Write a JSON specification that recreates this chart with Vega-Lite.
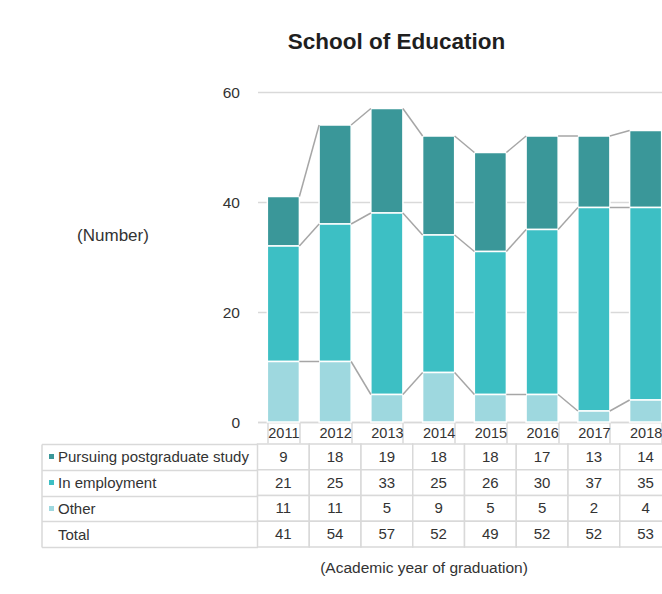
{
  "$schema": "https://vega.github.io/schema/vega-lite/v6.json",
  "padding": {"left": 40.5, "top": 30, "right": 0, "bottom": 0},
  "background": "white",
  "config": {"font": "Liberation Sans", "view": {"stroke": null}},
  "datasets": {
    "grads": [
      {"year": 2011, "category": "Pursuing postgraduate study", "value": 9},
      {"year": 2012, "category": "Pursuing postgraduate study", "value": 18},
      {"year": 2013, "category": "Pursuing postgraduate study", "value": 19},
      {"year": 2014, "category": "Pursuing postgraduate study", "value": 18},
      {"year": 2015, "category": "Pursuing postgraduate study", "value": 18},
      {"year": 2016, "category": "Pursuing postgraduate study", "value": 17},
      {"year": 2017, "category": "Pursuing postgraduate study", "value": 13},
      {"year": 2018, "category": "Pursuing postgraduate study", "value": 14},
      {"year": 2011, "category": "In employment", "value": 21},
      {"year": 2012, "category": "In employment", "value": 25},
      {"year": 2013, "category": "In employment", "value": 33},
      {"year": 2014, "category": "In employment", "value": 25},
      {"year": 2015, "category": "In employment", "value": 26},
      {"year": 2016, "category": "In employment", "value": 30},
      {"year": 2017, "category": "In employment", "value": 37},
      {"year": 2018, "category": "In employment", "value": 35},
      {"year": 2011, "category": "Other", "value": 11},
      {"year": 2012, "category": "Other", "value": 11},
      {"year": 2013, "category": "Other", "value": 5},
      {"year": 2014, "category": "Other", "value": 9},
      {"year": 2015, "category": "Other", "value": 5},
      {"year": 2016, "category": "Other", "value": 5},
      {"year": 2017, "category": "Other", "value": 2},
      {"year": 2018, "category": "Other", "value": 4}
    ]
  },
  "data": {"name": "grads"},
  "spacing": -8,
  "vconcat": [
    {
      "width": 414,
      "height": 330,
      "title": {
        "text": "School of Education",
        "fontSize": 22.5,
        "fontWeight": "bold",
        "color": "#1F1F1F",
        "anchor": "middle",
        "frame": "group",
        "dx": -68,
        "baseline": "alphabetic",
        "offset": 14
      },
      "transform": [
        {"calculate": "indexof(['Other','In employment','Pursuing postgraduate study'], datum.category)", "as": "order"}
      ],
      "encoding": {
        "x": {
          "field": "year",
          "type": "ordinal",
          "scale": {"paddingInner": 0.38, "paddingOuter": 0.19},
          "axis": {
            "orient": "bottom",
            "title": null,
            "grid": false,
            "domain": true,
            "domainColor": "#D9D9D9",
            "domainWidth": 1.5,
            "ticks": true,
            "tickBand": "extent",
            "tickSize": 21,
            "tickColor": "#D9D9D9",
            "tickWidth": 1.5,
            "labelAngle": 0,
            "labelPadding": -10,
            "labelBaseline": "middle",
            "labelFontSize": 14.5,
            "labelColor": "#333333"
          }
        }
      },
      "layer": [
        {
          "mark": {"type": "bar", "stroke": "white", "strokeWidth": 1.5},
          "encoding": {
            "y": {
              "field": "value",
              "type": "quantitative",
              "stack": "zero",
              "scale": {"domain": [0, 60], "nice": false},
              "axis": {
                "values": [0, 20, 40, 60],
                "domain": false,
                "ticks": false,
                "grid": true,
                "gridColor": "#D9D9D9",
                "gridWidth": 1.5,
                "labelPadding": 18,
                "labelFontSize": 15.5,
                "labelColor": "#333333",
                "title": "(Number)",
                "titleAngle": 0,
                "titleFontSize": 17,
                "titleFontWeight": "normal",
                "titleColor": "#333333",
                "titleX": -145,
                "titleY": 143,
                "titleAlign": "center",
                "titleBaseline": "middle"
              }
            },
            "color": {
              "field": "category",
              "type": "nominal",
              "scale": {
                "domain": ["Pursuing postgraduate study", "In employment", "Other"],
                "range": ["#3A9799", "#3DBFC4", "#9ED8DF"]
              },
              "legend": null
            },
            "order": {"field": "order", "type": "quantitative"}
          }
        },
        {
          "transform": [
            {"stack": "value", "groupby": ["year"], "sort": [{"field": "order"}], "as": ["y0", "y1"]},
            {"window": [{"op": "lead", "field": "y1", "as": "y1next"}, {"op": "lead", "field": "year", "as": "yearNext"}], "groupby": ["category"], "sort": [{"field": "year"}]},
            {"filter": "datum.yearNext != null"}
          ],
          "mark": {"type": "rule", "color": "#A6A6A6", "strokeWidth": 1.5, "xOffset": 16, "x2Offset": -16},
          "encoding": {
            "x2": {"field": "yearNext"},
            "y": {"field": "y1", "type": "quantitative"},
            "y2": {"field": "y1next"}
          }
        }
      ]
    },
    {
      "width": 414,
      "height": 103,
      "layer": [
        {
          "mark": {"type": "rect", "fill": "white", "stroke": "#D9D9D9", "strokeWidth": 1.5},
          "encoding": {
            "x": {
              "field": "year",
              "type": "ordinal",
              "scale": {"padding": 0},
              "axis": {
                "orient": "bottom",
                "labels": false,
                "ticks": false,
                "domain": false,
                "grid": false,
                "title": "(Academic year of graduation)",
                "titleFontSize": 15.5,
                "titleFontWeight": "normal",
                "titleColor": "#333333",
                "titleX": 166,
                "titleY": 20,
                "titleAlign": "center",
                "titleBaseline": "middle"
              }
            },
            "y": {
              "field": "category",
              "type": "nominal",
              "scale": {"domain": ["Pursuing postgraduate study", "In employment", "Other", "Total"], "padding": 0},
              "axis": {
                "orient": "left",
                "offset": 216,
                "title": null,
                "grid": false,
                "domain": true,
                "domainColor": "#D9D9D9",
                "domainWidth": 1.5,
                "ticks": true,
                "tickBand": "extent",
                "tickSize": -216,
                "tickColor": "#D9D9D9",
                "tickWidth": 1.5,
                "labelAlign": "left",
                "labelBaseline": "middle",
                "labelPadding": 200,
                "labelFontSize": 15,
                "labelColor": "#333333",
                "labelLimit": 0
              }
            }
          }
        },
        {
          "mark": {"type": "text", "fontSize": 15, "color": "#333333"},
          "encoding": {
            "x": {"field": "year", "type": "ordinal"},
            "y": {
              "field": "category",
              "type": "nominal",
              "axis": {
                "orient": "left",
                "offset": 204,
                "title": null,
                "grid": false,
                "domain": false,
                "labels": false,
                "ticks": true,
                "tickSize": 5,
                "tickWidth": 5,
                "tickCap": "butt",
                "tickColor": {
                  "condition": [
                    {"test": "datum.value === 'Pursuing postgraduate study'", "value": "#3A9799"},
                    {"test": "datum.value === 'In employment'", "value": "#3DBFC4"},
                    {"test": "datum.value === 'Other'", "value": "#9ED8DF"}
                  ],
                  "value": "transparent"
                }
              }
            },
            "text": {"field": "value", "type": "quantitative"}
          }
        },
        {
          "transform": [
            {"aggregate": [{"op": "sum", "field": "value", "as": "value"}], "groupby": ["year"]},
            {"calculate": "'Total'", "as": "category"}
          ],
          "mark": {"type": "rect", "fill": "white", "stroke": "#D9D9D9", "strokeWidth": 1.5},
          "encoding": {
            "x": {"field": "year", "type": "ordinal"},
            "y": {"field": "category", "type": "nominal", "axis": null}
          }
        },
        {
          "transform": [
            {"aggregate": [{"op": "sum", "field": "value", "as": "value"}], "groupby": ["year"]},
            {"calculate": "'Total'", "as": "category"}
          ],
          "mark": {"type": "text", "fontSize": 15, "color": "#333333"},
          "encoding": {
            "x": {"field": "year", "type": "ordinal"},
            "y": {"field": "category", "type": "nominal", "axis": null},
            "text": {"field": "value", "type": "quantitative"}
          }
        }
      ],
      "resolve": {"axis": {"y": "independent"}}
    }
  ]
}
